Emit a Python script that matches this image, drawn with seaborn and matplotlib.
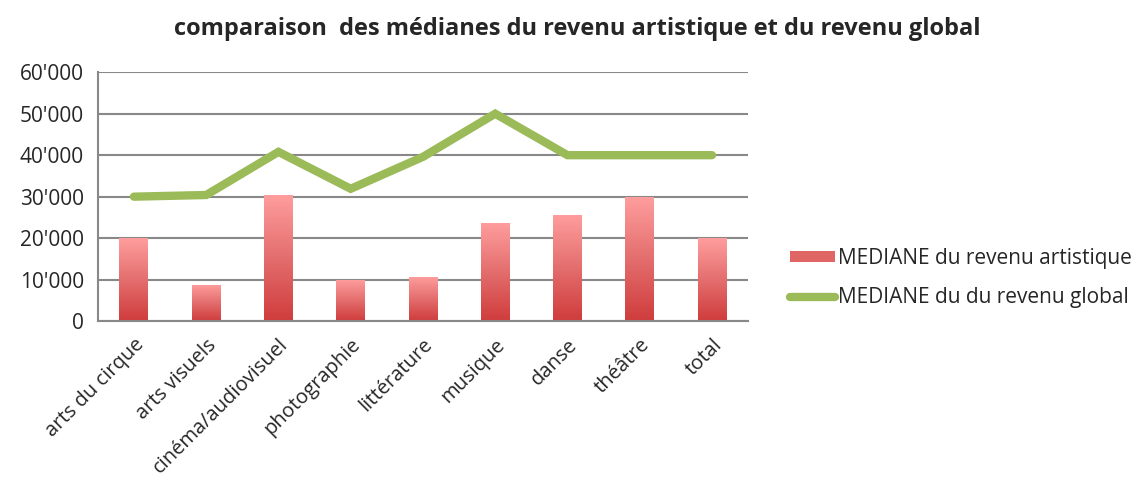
import numpy as np
import pandas as pd
import matplotlib
matplotlib.use("Agg")
import matplotlib.pyplot as plt
import seaborn as sns
from matplotlib.colors import LinearSegmentedColormap
from matplotlib.patches import Patch
from matplotlib.lines import Line2D
from matplotlib.ticker import FuncFormatter, MultipleLocator
from matplotlib.transforms import ScaledTranslation

categories = ["arts du cirque", "arts visuels", "cinéma/audiovisuel", "photographie",
              "littérature", "musique", "danse", "théâtre", "total"]
revenu_artistique = [20000, 8700, 30400, 10000, 10700, 23700, 25600, 30000, 20000]
revenu_global = [30000, 30400, 40800, 31900, 39600, 50000, 40000, 40000, 40000]
title = "comparaison  des médianes du revenu artistique et du revenu global"
label_bar = "MEDIANE du revenu artistique"
label_line = "MEDIANE du du revenu global"

sns.set_style("white")
plt.rcParams["font.family"] = ["Open Sans", "DejaVu Sans"]

df = pd.DataFrame({"cat": categories, "art": revenu_artistique, "glob": revenu_global})

fig = plt.figure(figsize=(11.37, 4.88), dpi=100)
ax = fig.add_axes([0.086, 0.342, 0.572, 0.51])

sns.barplot(data=df, x="cat", y="art", ax=ax, width=0.4, color="#E06666", saturation=1)

cmap = LinearSegmentedColormap.from_list("g", ["#D03C3C", "#E46E6E", "#FF9E9E"])
grad = np.linspace(0, 1, 256).reshape(-1, 1)
for p in ax.patches:
    x0, y0 = p.get_x(), p.get_y()
    w, h = p.get_width(), p.get_height()
    p.set_facecolor("none")
    p.set_edgecolor("none")
    im = ax.imshow(grad, cmap=cmap, origin="lower", aspect="auto",
                   extent=[x0, x0 + w, y0, y0 + h], zorder=2)
    im.set_clip_path(p)

sns.lineplot(x=np.arange(len(categories)), y=df["glob"], ax=ax, color="#9BBB59",
             linewidth=6, solid_capstyle="round", solid_joinstyle="miter", zorder=3)

ax.set_xlim(-0.5, len(categories) - 0.5)
ax.set_ylim(0, 60000)
ax.yaxis.set_major_locator(MultipleLocator(10000))
ax.yaxis.set_major_formatter(FuncFormatter(lambda v, _: "0" if v == 0 else f"{int(v):,}".replace(",", "'")))
ax.grid(axis="y", color="#888888", linewidth=1.5, zorder=0)
ax.set_axisbelow(True)
for s in ["top", "right"]:
    ax.spines[s].set_visible(False)
ax.spines["left"].set_color("#888888")
ax.spines["bottom"].set_color("#888888")
ax.spines["left"].set_linewidth(1.5)
ax.spines["bottom"].set_linewidth(1.5)

ax.set_xticks(np.arange(len(categories)))
ax.set_xticklabels(categories, rotation=45, ha="right", rotation_mode="anchor", fontsize=14.5)
offset = ScaledTranslation(6 / 72, 0, fig.dpi_scale_trans)
for lbl in ax.get_xticklabels():
    lbl.set_transform(lbl.get_transform() + offset)
ax.set_xticks(np.arange(-0.5, len(categories)), minor=True)
ax.tick_params(axis="x", which="major", length=0, pad=10)
ax.tick_params(axis="x", which="minor", length=6, width=1.5, color="#888888", direction="out")
ax.tick_params(axis="y", length=6, width=1.5, color="#888888", direction="out", labelsize=15, pad=4)
ax.set_xlabel("")
ax.set_ylabel("")

handles = [Patch(facecolor="#E06666", edgecolor="none", label=label_bar),
           Line2D([0], [0], color="#9BBB59", linewidth=6, solid_capstyle="round", label=label_line)]
fig.legend(handles=handles, loc="center left", bbox_to_anchor=(0.678, 0.43),
           frameon=False, fontsize=15, handlelength=2.2, handleheight=0.45,
           handletextpad=0.1, labelspacing=0.85)

fig.text(0.508, 0.94, title, ha="center", va="center", fontsize=17, fontweight="bold")

fig.savefig("out.png", dpi=100)
